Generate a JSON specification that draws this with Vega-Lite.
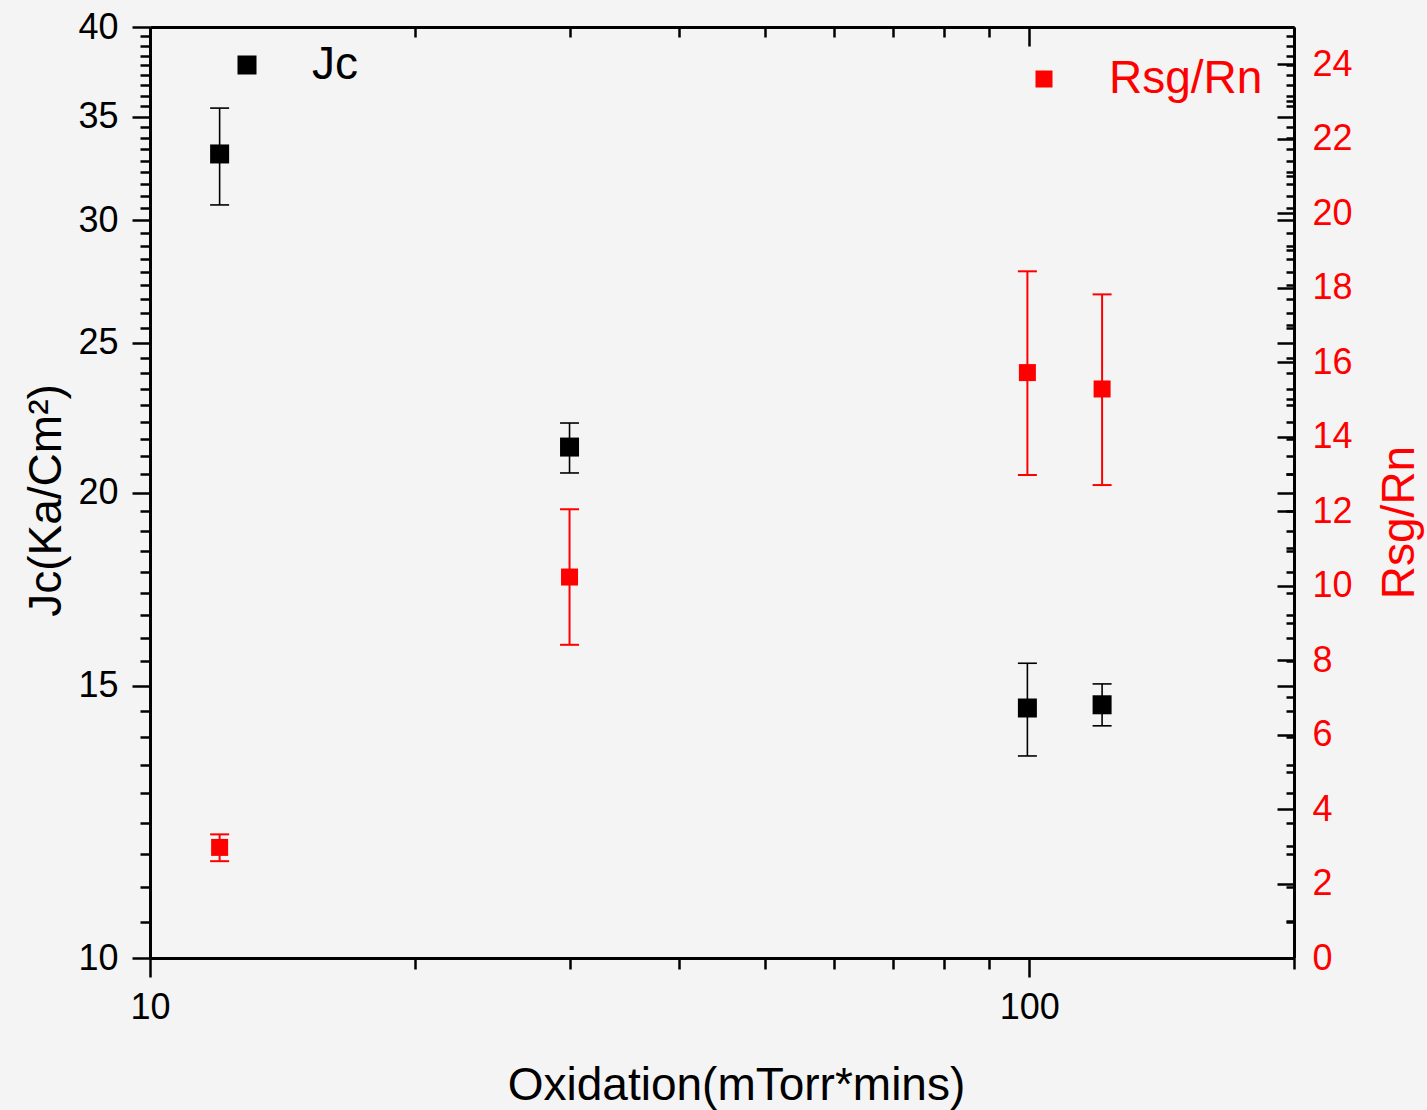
{
  "$schema": "https://vega.github.io/schema/vega-lite/v6.json",
  "width": 1144,
  "height": 931,
  "autosize": {"type": "none"},
  "padding": {"left": 150, "top": 27, "right": 133, "bottom": 152},
  "background": "#f4f4f4",
  "config": {
    "view": {"stroke": null},
    "font": "Liberation Sans",
    "axis": {
      "grid": false,
      "domainColor": "#000000",
      "domainWidth": 3,
      "tickColor": "#000000",
      "tickWidth": 2.5,
      "labelFont": "Liberation Sans",
      "labelFontSize": 36,
      "labelColor": "#000000",
      "labelFlush": false,
      "labelOverlap": false,
      "titleFont": "Liberation Sans",
      "titleFontSize": 46,
      "titleFontWeight": "normal",
      "titleColor": "#000000"
    }
  },
  "datasets": {
    "jc": [
      {"x": 12, "y": 33.11, "lo": 30.69, "hi": 35.45, "series": "Jc"},
      {"x": 30, "y": 21.40, "lo": 20.59, "hi": 22.18, "series": "Jc"},
      {"x": 99.5, "y": 14.51, "lo": 13.51, "hi": 15.51, "series": "Jc"},
      {"x": 121, "y": 14.58, "lo": 14.13, "hi": 15.04, "series": "Jc"}
    ],
    "rsg": [
      {"x": 12, "y": 2.97, "lo": 2.60, "hi": 3.32, "series": "Rsg/Rn"},
      {"x": 30, "y": 10.23, "lo": 8.41, "hi": 12.05, "series": "Rsg/Rn"},
      {"x": 99.5, "y": 15.72, "lo": 12.97, "hi": 18.44, "series": "Rsg/Rn"},
      {"x": 121, "y": 15.28, "lo": 12.70, "hi": 17.82, "series": "Rsg/Rn"}
    ]
  },
  "layer": [
    {
      "data": {"name": "jc"},
      "layer": [
        {
          "mark": {"type": "rule", "color": "#000000", "strokeWidth": 1.6},
          "encoding": {
            "x": {
              "field": "x", "type": "quantitative",
              "scale": {"type": "log", "domain": [10, 200], "nice": false},
              "axis": {
                "orient": "bottom", "values": [10, 100], "tickSize": 19, "labelPadding": 13, "format": "d",
                "title": "Oxidation(mTorr*mins)", "titleX": 586, "titleY": 141, "titleBaseline": "alphabetic"
              }
            },
            "y": {
              "field": "lo", "type": "quantitative",
              "scale": {"type": "log", "domain": [10, 40], "nice": false},
              "axis": {
                "orient": "left", "values": [10, 15, 20, 25, 30, 35, 40], "tickSize": 18, "labelPadding": 14, "format": "d",
                "title": "Jc(Ka/Cm²)", "titleAngle": -90, "titleBaseline": "alphabetic", "titleX": -90, "titleY": 473
              }
            },
            "y2": {"field": "hi"}
          }
        },
        {
          "mark": {"type": "tick", "orient": "horizontal", "color": "#000000", "size": 19, "thickness": 1.6, "opacity": 1},
          "encoding": {
            "x": {
              "field": "x", "type": "quantitative",
              "axis": {"orient": "bottom", "values": [20, 30, 40, 50, 60, 70, 80, 90, 200], "tickSize": 11, "labels": false, "domain": false, "title": null}
            },
            "y": {
              "field": "lo", "type": "quantitative",
              "axis": {
                "orient": "left", "tickSize": 10, "labels": false, "domain": false, "title": null,
                "values": [10.556, 11.111, 11.667, 12.222, 12.778, 13.333, 13.889, 14.444, 15.556, 16.111, 16.667, 17.222, 17.778, 18.333, 18.889, 19.444, 20.556, 21.111, 21.667, 22.222, 22.778, 23.333, 23.889, 24.444, 25.556, 26.111, 26.667, 27.222, 27.778, 28.333, 28.889, 29.444, 30.556, 31.111, 31.667, 32.222, 32.778, 33.333, 33.889, 34.444, 35.556, 36.111, 36.667, 37.222, 37.778, 38.333, 38.889, 39.444]
              }
            }
          }
        },
        {
          "mark": {"type": "tick", "orient": "horizontal", "color": "#000000", "size": 19, "thickness": 1.6, "opacity": 1},
          "encoding": {
            "x": {
              "field": "x", "type": "quantitative",
              "axis": {"orient": "top", "values": [10, 100], "tickSize": -19, "labels": false, "title": null}
            },
            "y": {
              "field": "hi", "type": "quantitative",
              "axis": {"orient": "right", "values": [10, 15, 20, 25, 30, 35, 40], "tickSize": -17, "labels": false, "domain": false, "title": null}
            }
          }
        },
        {
          "mark": {"type": "point", "shape": "square", "filled": true, "size": 361, "opacity": 1},
          "encoding": {
            "x": {
              "field": "x", "type": "quantitative",
              "axis": {"orient": "top", "values": [20, 30, 40, 50, 60, 70, 80, 90, 200], "tickSize": -10, "labels": false, "domain": false, "title": null}
            },
            "y": {
              "field": "y", "type": "quantitative",
              "axis": {
                "orient": "right", "tickSize": -8, "labels": false, "domain": false, "title": null,
                "values": [10.556, 11.111, 11.667, 12.222, 12.778, 13.333, 13.889, 14.444, 15.556, 16.111, 16.667, 17.222, 17.778, 18.333, 18.889, 19.444, 20.556, 21.111, 21.667, 22.222, 22.778, 23.333, 23.889, 24.444, 25.556, 26.111, 26.667, 27.222, 27.778, 28.333, 28.889, 29.444, 30.556, 31.111, 31.667, 32.222, 32.778, 33.333, 33.889, 34.444, 35.556, 36.111, 36.667, 37.222, 37.778, 38.333, 38.889, 39.444]
              }
            },
            "color": {
              "field": "series", "type": "nominal",
              "scale": {"domain": ["Jc"], "range": ["#000000"]},
              "legend": {
                "orient": "none", "legendX": 74, "legendY": 15, "title": null, "padding": 0,
                "symbolType": "square", "symbolSize": 361, "symbolStrokeWidth": 0, "symbolOpacity": 1,
                "labelFont": "Liberation Sans", "labelFontSize": 46, "labelColor": "#000000", "labelOffset": 42
              }
            }
          }
        }
      ],
      "resolve": {"axis": {"x": "independent", "y": "independent"}}
    },
    {
      "data": {"name": "rsg"},
      "layer": [
        {
          "mark": {"type": "rule", "color": "#ff0000", "strokeWidth": 2},
          "encoding": {
            "x": {"field": "x", "type": "quantitative", "axis": null},
            "y": {
              "field": "lo", "type": "quantitative",
              "scale": {"type": "linear", "domain": [0, 25], "nice": false, "zero": false},
              "axis": {
                "orient": "right", "values": [0, 2, 4, 6, 8, 10, 12, 14, 16, 18, 20, 22, 24], "tickSize": -17, "labelPadding": 35,
                "labelColor": "#ff0000", "title": "Rsg/Rn", "titleColor": "#ff0000", "titleAngle": -90,
                "titleBaseline": "alphabetic", "titleX": 119, "titleY": 495
              }
            },
            "y2": {"field": "hi"}
          }
        },
        {
          "mark": {"type": "tick", "orient": "horizontal", "color": "#ff0000", "size": 19, "thickness": 2, "opacity": 1},
          "encoding": {
            "x": {"field": "x", "type": "quantitative", "axis": null},
            "y": {
              "field": "lo", "type": "quantitative",
              "axis": {"orient": "right", "values": [1, 3, 5, 7, 9, 11, 13, 15, 17, 19, 21, 23], "tickSize": -8, "labels": false, "domain": false, "title": null}
            }
          }
        },
        {
          "mark": {"type": "tick", "orient": "horizontal", "color": "#ff0000", "size": 19, "thickness": 2, "opacity": 1},
          "encoding": {
            "x": {"field": "x", "type": "quantitative", "axis": null},
            "y": {"field": "hi", "type": "quantitative", "axis": null}
          }
        },
        {
          "mark": {"type": "point", "shape": "square", "filled": true, "size": 289, "opacity": 1},
          "encoding": {
            "x": {"field": "x", "type": "quantitative", "axis": null},
            "y": {"field": "y", "type": "quantitative", "axis": null},
            "color": {
              "field": "series", "type": "nominal",
              "scale": {"domain": ["Rsg/Rn"], "range": ["#ff0000"]},
              "legend": {
                "orient": "none", "legendX": 871, "legendY": 29, "title": null, "padding": 0,
                "symbolType": "square", "symbolSize": 289, "symbolStrokeWidth": 0, "symbolOpacity": 1,
                "labelFont": "Liberation Sans", "labelFontSize": 46, "labelColor": "#ff0000", "labelOffset": 42
              }
            }
          }
        }
      ],
      "resolve": {"axis": {"y": "independent"}}
    }
  ],
  "resolve": {
    "scale": {"y": "independent", "color": "independent"},
    "axis": {"x": "independent", "y": "independent"},
    "legend": {"color": "independent"}
  }
}
